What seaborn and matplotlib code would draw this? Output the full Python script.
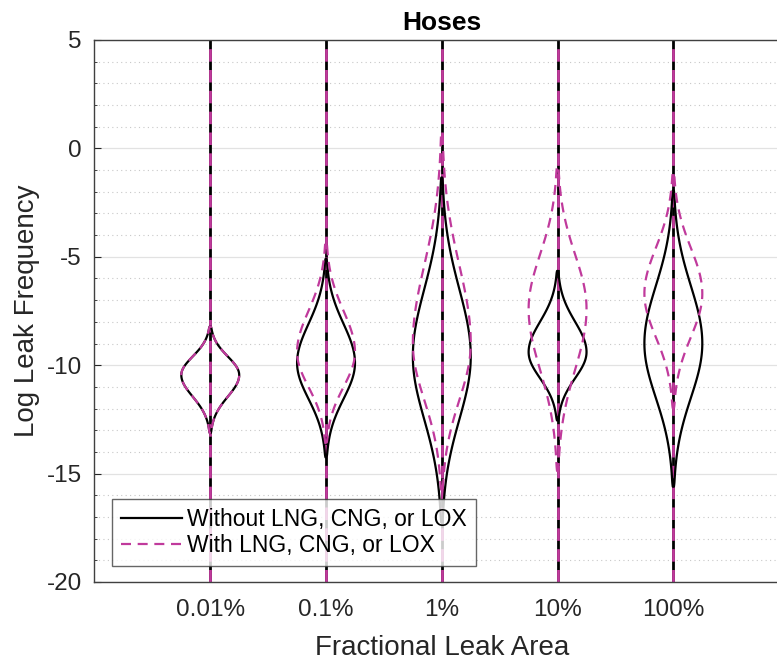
import numpy as np
import pandas as pd
import matplotlib
matplotlib.use("Agg")
import matplotlib.pyplot as plt
import seaborn as sns
from matplotlib.lines import Line2D
from matplotlib.ticker import MultipleLocator
from statistics import NormalDist

# Leak sizes (fraction of pipe flow area) and the two component sets
categories = ["0.01%", "0.1%", "1%", "10%", "100%"]
series_names = ["Without LNG, CNG, or LOX", "With LNG, CNG, or LOX"]

# Log10 leak frequency distributions: mode and lower / upper spread
mode_without = [-10.45, -9.9, -9.6, -9.4, -9.0]
lower_sd_without = [1.0, 1.65, 2.9, 1.2, 2.5]
upper_sd_without = [0.85, 1.8, 3.1, 1.4, 2.65]

mode_with = [-10.45, -9.4, -9.0, -7.4, -6.7]
lower_sd_with = [1.0, 1.6, 2.6, 2.8, 2.0]
upper_sd_with = [0.85, 1.9, 3.6, 2.5, 2.1]

line_colors = ["#000000", "#C03A9C"]
line_styles = ["-", (0, (4.5, 3))]

# Evenly spaced quantiles (central 99.2%) of each split-normal distribution
probs = np.linspace(0.004, 0.996, 4000)
std_normal = NormalDist()


def split_normal_quantiles(mode, s_lo, s_hi):
    w_lo = s_lo / (s_lo + s_hi)
    out = np.empty(len(probs))
    for k, p in enumerate(probs):
        if p < w_lo:
            out[k] = mode + s_lo * std_normal.inv_cdf(p / (2 * w_lo))
        else:
            out[k] = mode + s_hi * std_normal.inv_cdf(0.5 + (p - w_lo) / (2 * (1 - w_lo)))
    return out


frames = []
params = {
    series_names[0]: (mode_without, lower_sd_without, upper_sd_without),
    series_names[1]: (mode_with, lower_sd_with, upper_sd_with),
}
for name, (modes, los, his) in params.items():
    for cat, m, lo, hi in zip(categories, modes, los, his):
        frames.append(pd.DataFrame({
            "area": cat,
            "case": name,
            "logfreq": split_normal_quantiles(m, lo, hi),
        }))
df = pd.concat(frames, ignore_index=True)

plt.rcParams["font.family"] = ["Liberation Sans", "DejaVu Sans"]
plt.rcParams["axes.unicode_minus"] = False
text_color = "#262626"

fig = plt.figure(figsize=(7.77, 6.63), dpi=100)
ax = fig.add_axes([0.1216, 0.1222, 0.894, 0.8175])

# Full-height stems at each leak size
for i in range(len(categories)):
    ax.axvline(i, color=line_colors[0], lw=2.0, ls=line_styles[0], zorder=2)
    ax.axvline(i, color=line_colors[1], lw=2.0, ls=line_styles[1], zorder=2.1)

for name, color, ls, z in zip(series_names, line_colors, line_styles, [3, 4]):
    sns.violinplot(
        data=df[df["case"] == name], x="area", y="logfreq", order=categories,
        fill=False, color=color, linecolor=color, linewidth=1.6,
        width=0.5, density_norm="width", inner=None, cut=0,
        bw_adjust=0.3, gridsize=500, linestyle=ls, zorder=z, ax=ax,
    )

ax.set_xlim(-1, 5)
ax.set_ylim(-20, 5)
ax.yaxis.set_major_locator(MultipleLocator(5))
ax.yaxis.set_minor_locator(MultipleLocator(1))
ax.set_xticks(range(len(categories)))
ax.set_xticklabels(categories)

ax.set_axisbelow(True)
ax.grid(True, which="major", color="#e2e2e2", lw=0.9, ls="-")
ax.grid(True, which="minor", axis="y", color="#c8c8c8", lw=0.8, ls=(0, (1, 3)))

ax.tick_params(axis="both", which="major", direction="in", length=5, width=0.8,
               labelsize=17.5, colors=text_color, pad=9)
ax.tick_params(axis="y", which="minor", direction="in", length=2.5, width=0.6,
               colors=text_color)
ax.tick_params(axis="x", which="major", pad=12)
for side in ["left", "bottom", "top", "right"]:
    ax.spines[side].set_color("#404040")
    ax.spines[side].set_linewidth(1.0)

ax.set_xlabel("Fractional Leak Area", fontsize=20, color=text_color, labelpad=10)
ax.set_ylabel("Log Leak Frequency", fontsize=20, color=text_color, labelpad=5)
ax.set_title("Hoses", fontsize=19, fontweight="bold", color="#000000", pad=7)

handles = [
    Line2D([], [], color=line_colors[0], lw=1.6, ls=line_styles[0]),
    Line2D([], [], color=line_colors[1], lw=1.6, ls=line_styles[1]),
]
leg = ax.legend(handles, series_names, loc="lower left",
                bbox_to_anchor=(0.025, 0.03), borderaxespad=0,
                fontsize=16.5, frameon=True, fancybox=False,
                handlelength=2.65, handletextpad=0.25, labelspacing=0.1,
                borderpad=0.4)
leg.get_frame().set_edgecolor("#404040")
leg.get_frame().set_linewidth(1.0)
for t in leg.get_texts():
    t.set_color("#000000")

fig.savefig("out.png", dpi=100)
